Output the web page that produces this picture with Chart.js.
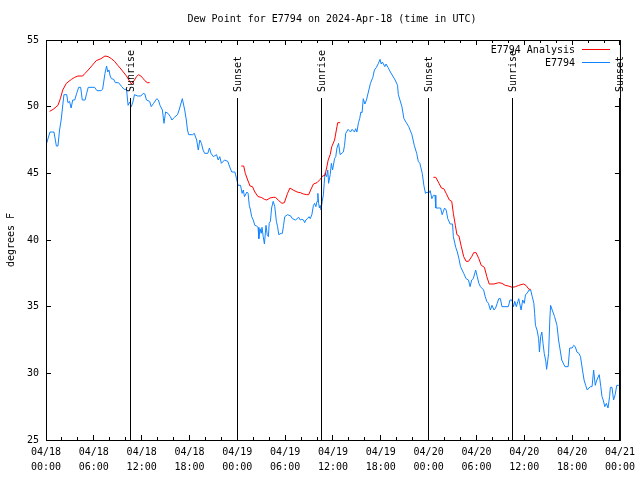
<!DOCTYPE html>
<html>
<head>
<meta charset="utf-8">
<script src="https://cdn.jsdelivr.net/npm/chart.js@4.4.1/dist/chart.umd.min.js"></script>
<style>
  html, body { margin: 0; padding: 0; background: #fff; }
  #wrap { width: 640px; height: 480px; }
</style>
</head>
<body>
<div id="wrap"><canvas id="myChart" width="640" height="480"></canvas></div>
<script>
// Chart data (hours since 2024-04-18 00:00 UTC)
const titleText = "Dew Point for E7794 on 2024-Apr-18 (time in UTC)";
const yTitle = "degrees F";

const xTickDates = ["04/18", "04/18", "04/18", "04/18", "04/19", "04/19", "04/19", "04/19", "04/20", "04/20", "04/20", "04/20", "04/21"];
const xTickTimes = ["00:00", "06:00", "12:00", "18:00", "00:00", "06:00", "12:00", "18:00", "00:00", "06:00", "12:00", "18:00", "00:00"];

const sunHours = [10.55, 23.98, 34.5, 48.0, 58.55, 72.0];
const sunLabels = ["Sunrise", "Sunset", "Sunrise", "Sunset", "Sunrise", "Sunset"];

// observed station values
const obsHours = [0.0, 0.2, 0.5, 1.0, 1.3, 1.5, 1.7, 1.9, 2.25, 2.6, 2.75, 2.95, 3.15, 3.35, 3.6, 3.85, 4.1, 4.35, 4.55, 4.9,
  5.1, 5.3, 6.1, 6.4, 6.9, 7.1, 7.4, 7.6, 7.75, 7.9, 8.05, 8.2, 8.5, 8.7, 9.1, 9.5, 9.8, 10.1, 10.3, 10.5,
  10.7, 10.9, 11.1, 11.5, 11.9, 12.2, 12.4, 12.6, 13.0, 13.2, 13.5, 13.9, 14.1, 14.3, 14.6, 14.8, 15.0, 15.3, 15.6, 15.8,
  16.1, 16.5, 16.7, 17.1, 17.4, 17.6, 17.75, 17.9, 18.4, 18.6, 18.9, 19.1, 19.3, 19.5, 19.7, 19.9, 20.3, 20.5, 20.7, 21.0,
  21.4, 21.6, 21.8, 22.0, 22.4, 22.8, 23.1, 23.3, 23.7, 23.9, 24.1, 24.4, 24.6, 24.75, 24.9, 25.2, 25.35, 25.5, 25.65, 25.8,
  26.0, 26.2, 26.4, 26.6, 26.7, 26.85, 27.0, 27.1, 27.25, 27.4, 27.6, 27.75, 27.9, 28.0, 28.15, 28.3, 28.5, 28.7, 28.9, 29.05,
  29.2, 29.5, 29.65, 29.8, 29.95, 30.3, 30.7, 30.9, 31.3, 31.7, 31.9, 32.1, 32.3, 32.45, 32.6, 32.8, 33.0, 33.15, 33.35, 33.55,
  33.7, 33.85, 34.0, 34.1, 34.2, 34.3, 34.4, 34.5, 34.65, 34.8, 34.9, 35.0, 35.2, 35.35, 35.45, 35.65, 35.8, 35.95, 36.2, 36.35,
  36.5, 36.7, 36.9, 37.3, 37.45, 37.6, 37.9, 38.2, 38.4, 38.7, 38.85, 39.0, 39.2, 39.35, 39.5, 39.65, 39.8, 40.0, 40.2, 40.5,
  40.7, 41.0, 41.2, 41.45, 41.7, 41.9, 42.05, 42.2, 42.5, 42.65, 42.9, 43.2, 43.5, 43.8, 44.1, 44.2, 44.65, 44.9, 45.2, 45.5,
  45.9, 46.2, 46.5, 46.7, 46.9, 47.1, 47.2, 47.4, 47.6, 47.8, 48.0, 48.2, 48.4, 48.6, 48.8, 48.9, 49.5, 49.7, 49.85, 50.0,
  50.2, 50.4, 50.7, 51.0, 51.1, 51.4, 51.6, 51.8, 52.0, 52.2, 52.4, 52.7, 53.0, 53.2, 53.4, 53.6, 53.9, 54.1, 54.3, 54.5,
  54.9, 55.1, 55.3, 55.5, 55.75, 55.95, 56.2, 56.4, 56.6, 56.8, 57.0, 57.2, 58.0, 58.2, 58.45, 58.65, 58.8, 59.0, 59.2, 59.3,
  59.6, 59.8, 60.0, 60.15, 60.35, 60.6, 60.8, 61.0, 61.2, 61.3, 61.4, 61.6, 61.8, 61.9, 62.05, 62.2, 62.35, 62.5, 62.7, 62.8,
  62.95, 63.05, 63.2, 63.3, 63.5, 63.8, 64.1, 64.3, 64.5, 64.7, 65.1, 65.5, 65.7, 66.0, 66.2, 66.4, 66.6, 66.85, 67.05, 67.3,
  67.5, 67.7, 67.9, 68.1, 68.3, 68.5, 68.7, 68.9, 69.1, 69.4, 69.6, 69.75, 69.9, 70.1, 70.3, 70.5, 70.7, 70.8, 71.0, 71.2,
  71.4, 71.6, 71.85];
const obsValues = [47.1, 47.5, 48.1, 48.1, 47.05, 47.05, 48.25, 49.0, 50.9, 50.9, 50.3, 50.4, 49.9, 50.5, 50.5, 51.0, 51.45, 51.45, 50.5, 50.5,
  51.0, 51.45, 51.45, 51.2, 51.2, 51.3, 52.5, 53.05, 52.6, 52.75, 52.3, 52.1, 52.05, 51.8, 51.8, 51.5, 51.3, 51.3, 50.1, 50.35,
  50.0, 50.35, 50.9, 50.8, 50.8, 51.0, 50.95, 50.5, 50.4, 50.0, 50.25, 50.6, 50.5, 50.1, 49.75, 48.75, 49.6, 49.5, 49.25, 49.0,
  49.2, 49.4, 49.75, 50.6, 49.75, 49.0, 48.25, 47.9, 47.9, 48.0, 47.5, 46.75, 47.5, 47.25, 46.75, 46.5, 46.5, 46.9, 46.5, 46.25,
  46.4, 46.0, 46.25, 45.75, 46.0, 45.9, 45.4, 45.1, 45.1, 44.6, 44.1, 44.1, 43.5, 43.75, 43.25, 43.6, 43.5, 42.6, 42.25, 41.75,
  41.5, 41.1, 41.05, 40.95, 40.1, 40.85, 40.5, 40.95, 40.25, 39.7, 41.1, 40.4, 40.25, 41.25, 41.4, 42.4, 42.9, 42.5, 41.4, 41.0,
  40.4, 40.5, 40.5, 41.1, 41.75, 41.9, 41.8, 41.6, 41.5, 41.7, 41.5, 41.55, 41.5, 41.3, 41.5, 41.6, 41.75, 41.6, 41.9, 42.6,
  42.75, 42.5, 42.9, 43.5, 42.75, 42.4, 42.6, 42.25, 42.9, 43.4, 44.25, 45.0, 44.75, 45.25, 44.25, 44.9, 45.75, 45.25, 46.1, 46.25,
  46.9, 47.25, 46.4, 46.6, 47.1, 48.0, 48.3, 48.1, 48.3, 48.1, 48.35, 48.1, 48.8, 49.1, 49.6, 49.55, 50.6, 50.2, 50.5, 51.25,
  51.75, 52.2, 52.75, 52.95, 53.25, 53.55, 53.2, 53.35, 53.0, 53.2, 52.95, 52.6, 52.3, 52.0, 51.6, 50.9, 50.0, 49.1, 48.8, 48.5,
  47.9, 47.1, 46.5, 45.9, 45.75, 45.25, 45.0, 44.1, 43.5, 43.6, 43.5, 43.7, 43.1, 43.35, 43.35, 42.4, 42.4, 41.9, 42.15, 42.4,
  42.25, 41.6, 41.2, 41.2, 40.25, 39.45, 39.1, 38.6, 38.0, 37.75, 37.5, 37.1, 37.0, 36.5, 37.0, 37.1, 37.75, 37.25, 36.75, 36.5,
  36.25, 35.75, 35.4, 35.25, 34.75, 35.1, 34.75, 34.9, 35.25, 35.6, 35.6, 35.0, 35.0, 35.5, 35.5, 35.0, 35.4, 35.0, 35.4, 35.6,
  34.75, 35.5, 35.25, 35.9, 36.0, 36.25, 36.25, 35.75, 35.25, 34.5, 33.6, 33.25, 32.6, 31.6, 32.75, 33.1, 32.25, 31.5, 30.9, 30.3,
  31.0, 31.5, 34.0, 35.1, 34.75, 34.25, 33.6, 32.5, 31.75, 31.0, 30.5, 30.5, 31.9, 31.9, 32.1, 32.0, 31.6, 31.5, 31.25, 30.25,
  29.5, 29.1, 28.75, 28.9, 29.0, 29.0, 30.25, 29.1, 29.5, 29.9, 29.0, 28.25, 28.0, 27.5, 27.75, 27.4, 28.25, 28.95, 28.95, 28.0,
  28.4, 29.1, 29.1];

// analysis values (null = no analysis)
const anaHours = [0.45, 0.9, 1.5, 1.8, 2.1, 2.55, 3.2, 3.6, 4.0, 4.6, 4.9, 5.3, 5.8, 6.3, 6.9, 7.4, 7.8, 8.2, 8.6, 9.0,
  9.3, 9.7, 10.1, 10.4, 10.7, 10.9, 11.1, 11.35, 11.6, 11.9, 12.2, 12.4, 12.7, 13.0,
  18.0,
  24.5, 24.8, 25.0, 25.3, 25.6, 25.9, 26.2, 26.6, 27.0, 27.4, 27.7, 28.1, 28.5, 28.8, 29.2, 29.6, 29.9, 30.3, 30.6, 31.0,
  31.5, 31.9, 32.3, 32.7, 32.95, 33.2, 33.55, 34.0, 34.4, 34.7, 35.0, 35.2, 35.4, 35.65, 35.85, 36.2, 36.5, 36.6, 36.9,
  42.0,
  48.6, 48.9, 49.3, 49.6, 49.9, 50.2, 50.6, 50.9, 51.1, 51.35, 51.55, 51.8, 52.1, 52.4, 52.7, 53.0, 53.4, 53.65, 53.95, 54.3,
  54.6, 55.0, 55.3, 55.6, 56.2, 56.8, 57.2, 57.6, 58.0, 58.5, 58.9, 59.3, 59.9, 60.2, 60.6, 60.8];
const anaValues = [49.65, 49.8, 50.1, 50.6, 51.25, 51.75, 52.05, 52.2, 52.3, 52.3, 52.5, 52.75, 53.1, 53.45, 53.6, 53.8, 53.75, 53.6, 53.4, 53.1,
  52.9, 52.6, 52.3, 52.0, 51.7, 51.85, 52.0, 52.25, 52.4, 52.3, 52.1, 51.95, 51.8, 51.8,
  null,
  45.55, 45.55, 45.0, 44.5, 44.05, 44.0, 43.6, 43.25, 43.2, 43.05, 43.0, 43.15, 43.2, 43.2, 42.95, 42.75, 42.8, 43.5, 43.9, 43.75,
  43.6, 43.55, 43.45, 43.4, 43.4, 43.75, 44.2, 44.3, 44.55, 44.8, 44.85, 45.4, 46.0, 46.4, 47.0, 47.5, 48.5, 48.8, 48.8,
  null,
  44.7, 44.7, 44.25, 43.9, 43.85, 43.5, 43.0, 42.9, 42.0, 41.1, 40.4, 40.3, 39.5, 38.75, 38.4, 38.4, 38.75, 39.05, 39.05, 38.6,
  38.1, 37.95, 37.25, 36.7, 36.7, 36.8, 36.75, 36.6, 36.55, 36.45, 36.5, 36.6, 36.7, 36.6, 36.3, 36.3];

const FONT = "DejaVu Sans Mono";
const ctx = document.getElementById("myChart");

// border box, inward ticks, sun lines, title and legend
const gnuplotFrame = {
  id: "gnuplotFrame",
  afterDatasetsDraw: (chart) => {
    const c = chart.ctx;
    const area = chart.chartArea;
    const xs = chart.scales.x;
    const ys = chart.scales.y;
    c.save();
    c.strokeStyle = "#000";
    c.fillStyle = "#000";
    c.lineWidth = 1;

    // sunrise / sunset lines
    c.font = "10px '" + FONT + "'";
    sunHours.forEach((h, i) => {
      const px = Math.floor(xs.getPixelForValue(h)) + 0.5;
      c.beginPath();
      c.moveTo(px, 98);
      c.lineTo(px, area.bottom);
      c.stroke();
      c.save();
      c.translate(px + 1, 92);
      c.rotate(-Math.PI / 2);
      c.textAlign = "left";
      c.textBaseline = "middle";
      c.fillText(sunLabels[i], 0, 0);
      c.restore();
    });

    // border
    c.strokeRect(area.left + 0.5, area.top + 0.5, area.right - area.left, area.bottom - area.top);

    // x ticks (inward, top and bottom)
    c.beginPath();
    xs.ticks.forEach((t) => {
      const px = Math.floor(xs.getPixelForValue(t.value)) + 0.5;
      const len = t.value % 6 === 0 ? 5 : 3;
      c.moveTo(px, area.bottom);
      c.lineTo(px, area.bottom - len);
      c.moveTo(px, area.top);
      c.lineTo(px, area.top + len);
    });
    // y ticks (inward, left and right)
    ys.ticks.forEach((t) => {
      const py = Math.floor(ys.getPixelForValue(t.value)) + 0.5;
      c.moveTo(area.left, py);
      c.lineTo(area.left + 5, py);
      c.moveTo(area.right, py);
      c.lineTo(area.right - 5, py);
    });
    c.stroke();

    // title
    c.textAlign = "center";
    c.textBaseline = "middle";
    c.fillText(titleText, 332, 19);

    // y axis title
    c.save();
    c.translate(11, 240);
    c.rotate(-Math.PI / 2);
    c.fillText(yTitle, 0, 0);
    c.restore();

    // legend
    c.textAlign = "right";
    chart.data.datasets.forEach((ds, i) => {
      const y = 50 + i * 13;
      c.fillText(ds.label, 575, y);
      c.strokeStyle = ds.borderColor;
      c.beginPath();
      c.moveTo(582, y - 0.5);
      c.lineTo(610, y - 0.5);
      c.stroke();
    });
    c.restore();
  },
};

const data = {
  datasets: [
    {
      label: "E7794 Analysis",
      data: anaHours.map((h, i) => ({ x: h, y: anaValues[i] })),
      borderColor: "rgb(255, 0, 0)",
      borderWidth: 1,
      spanGaps: false,
    },
    {
      label: "E7794",
      data: obsHours.map((h, i) => ({ x: h, y: obsValues[i] })),
      borderColor: "rgb(16, 132, 255)",
      borderWidth: 1,
    },
  ],
};

const config = {
  type: "line",
  data,
  options: {
    responsive: false,
    animation: false,
    radius: 0,
    tension: 0,
    layout: { padding: { top: 40, right: 19, left: 0, bottom: 0 } },
    plugins: {
      legend: { display: false },
      tooltip: { enabled: false },
    },
    scales: {
      x: {
        type: "linear",
        min: 0,
        max: 72,
        grid: { display: false, drawTicks: false },
        border: { display: false },
        afterFit: (scale) => { scale.height = 40; },
        ticks: {
          stepSize: 2,
          autoSkip: false,
          maxRotation: 0,
          padding: 5,
          color: "#000",
          font: { family: FONT, size: 10, lineHeight: 1.5 },
          callback: (v) => (v % 6 === 0 ? [xTickDates[v / 6], xTickTimes[v / 6]] : ""),
        },
      },
      y: {
        min: 25,
        max: 55,
        grid: { display: false, drawTicks: false },
        border: { display: false },
        afterFit: (scale) => { scale.width = 46; },
        ticks: {
          stepSize: 5,
          padding: 7,
          color: "#000",
          font: { family: FONT, size: 10 },
        },
      },
    },
  },
  plugins: [gnuplotFrame],
};

new Chart(ctx, config);
</script>
</body>
</html>
